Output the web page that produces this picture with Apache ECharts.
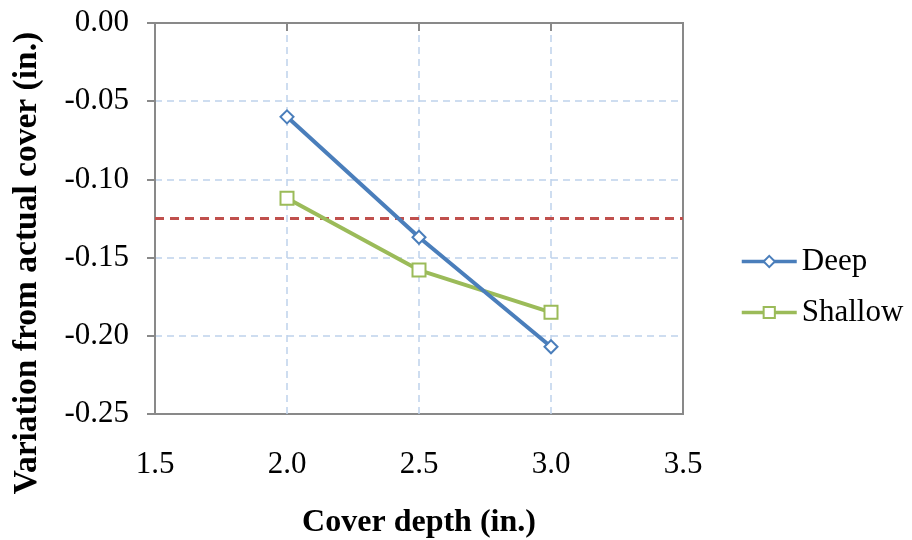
<!DOCTYPE html>
<html>
<head>
<meta charset="utf-8">
<script src="https://cdn.jsdelivr.net/npm/echarts@6/dist/echarts.min.js"></script>
<style>
html,body{margin:0;padding:0;background:#fff;}
#c{width:912px;height:540px;}
</style>
</head>
<body>
<div id="c"></div>
<script>
const coverDepth = [2.0, 2.5, 3.0];
const deepValues = [-0.060, -0.137, -0.207];
const shallowValues = [-0.112, -0.158, -0.185];
const thresholdValue = -0.125;
const xTicks = [1.5, 2.0, 2.5, 3.0, 3.5];
const yTicks = [0.00, -0.05, -0.10, -0.15, -0.20, -0.25];

const FONT = '"Liberation Serif", "Times New Roman", serif';
const chart = echarts.init(document.getElementById('c'), null, {renderer: 'canvas'});

const axisGrey = '#898989';
const gridBlue = '#bfd2ec';

chart.setOption({
  animation: false,
  backgroundColor: '#ffffff',
  grid: {left: 155, right: 229, top: 23, bottom: 126, containLabel: false,
         outerBoundsMode: 'none',
         show: true, borderColor: axisGrey, borderWidth: 2},
  legend: {
    orient: 'vertical', left: 735, top: 241, padding: 5,
    itemWidth: 55, itemHeight: 14, itemGap: 20,
    lineStyle: {width: 3.5},
    textStyle: {fontFamily: FONT, fontSize: 31, color: '#000'},
    data: ['Deep', 'Shallow']
  },
  xAxis: {
    type: 'value', min: xTicks[0], max: xTicks[xTicks.length-1], interval: 0.5,
    name: 'Cover depth (in.)', nameLocation: 'middle', nameGap: 93,
    nameTextStyle: {fontFamily: FONT, fontSize: 32, fontWeight: 'bold', color: '#000'},
    axisLine: {show: true, lineStyle: {color: axisGrey, width: 2}},
    axisTick: {show: true, length: 8, lineStyle: {color: axisGrey, width: 2}},
    axisLabel: {fontFamily: FONT, fontSize: 31, color: '#000', margin: 35,
                formatter: v => v.toFixed(1)},
    splitLine: {show: true, showMinLine: false, showMaxLine: false,
                lineStyle: {color: gridBlue, type: [7, 5], width: 1.5}}
  },
  yAxis: {
    type: 'value', min: yTicks[yTicks.length-1], max: yTicks[0], interval: 0.05,
    axisLine: {show: true, onZero: false, lineStyle: {color: axisGrey, width: 2}},
    axisTick: {show: true, length: 8, lineStyle: {color: axisGrey, width: 2}},
    axisLabel: {fontFamily: FONT, fontSize: 31, color: '#000', margin: 26,
                formatter: v => v.toFixed(2)},
    splitLine: {show: true, showMinLine: false, showMaxLine: false,
                lineStyle: {color: gridBlue, type: [7, 5], width: 1.5}}
  },
  graphic: [{
    type: 'text', x: 27, y: 263, rotation: Math.PI / 2,
    style: {text: 'Variation from actual cover (in.)', fontFamily: FONT, fontSize: 33.5,
            fontWeight: 'bold', fill: '#000', align: 'center', verticalAlign: 'middle'}
  }],
  series: [
    {
      name: 'Threshold', type: 'line',
      data: [[xTicks[0], thresholdValue], [xTicks[xTicks.length-1], thresholdValue]],
      symbol: 'none', silent: true,
      lineStyle: {color: '#c0504d', type: [9, 6], width: 3},
      z: 1
    },
    {
      name: 'Deep', type: 'line',
      data: coverDepth.map((x, i) => [x, deepValues[i]]),
      symbol: 'emptyDiamond', symbolSize: 13,
      lineStyle: {color: '#4a7ebb', width: 4},
      itemStyle: {color: '#4a7ebb', borderWidth: 1.5},
      z: 3
    },
    {
      name: 'Shallow', type: 'line',
      data: coverDepth.map((x, i) => [x, shallowValues[i]]),
      symbol: 'emptyRect', symbolSize: 13,
      lineStyle: {color: '#9bbb59', width: 4},
      itemStyle: {color: '#9bbb59', borderWidth: 2},
      z: 2
    }
  ]
});
</script>
</body>
</html>
